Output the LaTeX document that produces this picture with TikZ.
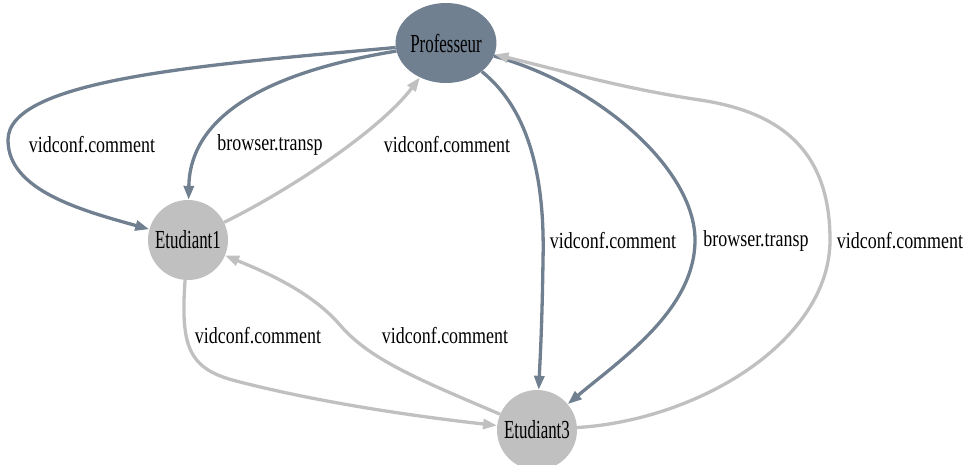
\documentclass[tikz,border=0pt]{standalone}
\usepackage{fontspec}
\setmainfont{Liberation Serif}
\usetikzlibrary{arrows.meta,shapes.geometric}
\definecolor{slate}{RGB}{112,128,144}
\definecolor{silv}{RGB}{192,192,192}
\newcommand{\elab}[1]{\fontsize{23}{26}\selectfont\scalebox{0.78}[1]{#1}}
\newcommand{\nlab}[1]{\fontsize{26}{28}\selectfont\scalebox{0.65}[1]{#1}}
\begin{document}
\begin{tikzpicture}[x=1pt,y=-1pt,
  prof/.style={ellipse,fill=slate,minimum width=94pt,minimum height=80pt,inner sep=0pt},
  stud/.style={circle,fill=silv,minimum size=80pt,inner sep=0pt},
  edgeS/.style={draw=slate,line width=3.3pt,-{Triangle[length=14pt,width=10pt]}},
  edgeG/.style={draw=silv,line width=3.3pt,-{Triangle[length=14pt,width=10pt]}},
  lbl/.style={inner sep=0pt}]
\useasboundingbox (0,0) rectangle (965,464);
\node[prof] (p) at (446,43) {\nlab{Professeur}};
\node[stud] (e1) at (188,240) {\nlab{Etudiant1}};
\node[stud] (e3) at (537,430) {\nlab{Etudiant3}};
% edges
\draw[edgeS] (p) .. controls (200,65) and (8,80) .. (8,140) .. controls (8,190) and (80,210) .. (e1);
\draw[edgeS] (p) .. controls (280,70) and (190,110) .. (e1);
\draw[edgeG] (e1) .. controls (290,190) and (380,130) .. (p);
\draw[edgeS] (p) .. controls (530,110) and (545,180) .. (543,260) .. controls (542,330) and (540,360) .. (e3);
\draw[edgeS] (p) .. controls (600,85) and (695,170) .. (695,240) .. controls (695,310) and (620,360) .. (e3);
\draw[edgeG] (e3) .. controls (700,420) and (830,340) .. (830,240) .. controls (830,150) and (780,112) .. (700,100) .. controls (620,88) and (560,70) .. (p);
\draw[edgeG] (e1) .. controls (180,350) and (190,370) .. (240,382) .. controls (330,405) and (430,418) .. (e3);
\draw[edgeG] (e3) .. controls (420,380) and (370,360) .. (340,325) .. controls (310,290) and (260,270) .. (e1);
% labels
\node[lbl] (l1) at (92,145) {\elab{vidconf.comment}};
\node[lbl] (l2) at (270,145) {\elab{browser.transp}};
\node[lbl] (l3) at (447,145) {\elab{vidconf.comment}};
\node[lbl] (l4) at (613,241) {\elab{vidconf.comment}};
\node[lbl] (l5) at (756,241) {\elab{browser.transp}};
\node[lbl] (l6) at (900,241) {\elab{vidconf.comment}};
\node[lbl] (l7) at (258,336) {\elab{vidconf.comment}};
\node[lbl] (l8) at (445,336) {\elab{vidconf.comment}};
\end{tikzpicture}
\end{document}
